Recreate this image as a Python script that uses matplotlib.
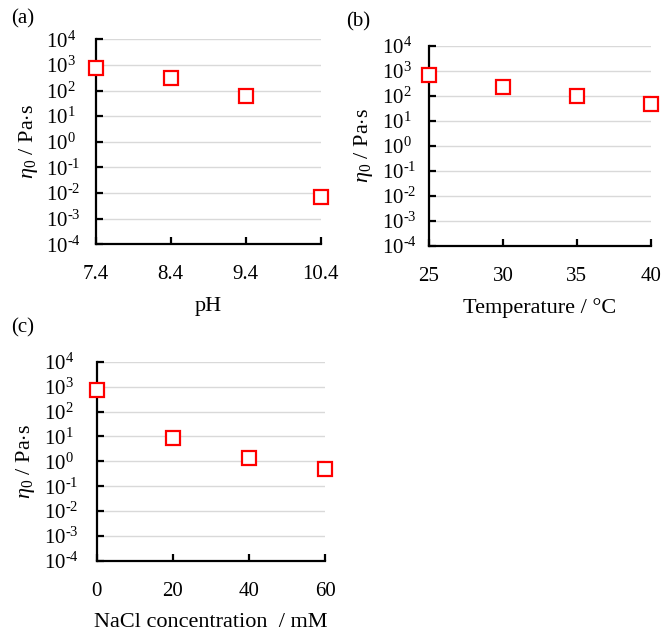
import matplotlib
matplotlib.use("Agg")
import matplotlib.pyplot as plt
from matplotlib.ticker import FixedLocator, FixedFormatter, NullLocator

plt.rcParams['font.family'] = ['Liberation Serif', 'DejaVu Serif']
plt.rcParams['mathtext.fontset'] = 'custom'
plt.rcParams['mathtext.rm'] = 'Liberation Serif'
plt.rcParams['mathtext.it'] = 'Liberation Serif:italic'

# Data
ph = [7.4, 8.4, 9.4, 10.4]
eta_ph = [740, 300, 60, 0.0068]
ph_ticks = ['7.4', '8.4', '9.4', '10.4']

temp = [25, 30, 35, 40]
eta_temp = [670, 230, 100, 48]
temp_ticks = ['25', '30', '35', '40']

nacl = [0, 20, 40, 60]
eta_nacl = [710, 9, 1.35, 0.49]
nacl_ticks = ['0', '20', '40', '60']

ylog_ticks = [1e-4, 1e-3, 1e-2, 1e-1, 1e0, 1e1, 1e2, 1e3, 1e4]
ylog_labels = [r'$10^{\text{-}4}$', r'$10^{\text{-}3}$', r'$10^{\text{-}2}$', r'$10^{\text{-}1}$',
               r'$10^{0}$', r'$10^{1}$', r'$10^{2}$', r'$10^{3}$', r'$10^{4}$']

W, H = 661, 631
fig = plt.figure(figsize=(W / 100, H / 100), dpi=100)

TICK_FS = 15
LABEL_FS = 16

# rect, x, y, xticks, xticklabels, xlabel, tag, tag position (px), ytick pad (px), ylabel right edge offset (px)
panels = [
    ([0.1448, 0.6128, 0.3404, 0.3249], ph, eta_ph, ph, ph_ticks, 'pH', '(a)', (23, 19), 50, 56),
    ([0.6490, 0.6106, 0.3354, 0.3170], temp, eta_temp, temp, temp_ticks, 'Temperature / °C', '(b)', (358, 22), 47, 54),
    ([0.1463, 0.1109, 0.3454, 0.3159], nacl, eta_nacl, nacl, nacl_ticks, 'NaCl concentration  / mM', '(c)', (23, 328), 53, 60),
]

for rect, x, y, xt, xtl, xlabel, tag, tagpos, ypad, ylab_off in panels:
    ax = fig.add_axes(rect)
    ax.set_yscale('log')
    ax.set_ylim(1e-4, 1e4)
    ax.set_xlim(xt[0], xt[-1])
    ax.yaxis.set_major_locator(FixedLocator(ylog_ticks))
    ax.yaxis.set_major_formatter(FixedFormatter(ylog_labels))
    ax.yaxis.set_minor_locator(NullLocator())
    ax.set_xticks(xt)
    ax.set_xticklabels(xtl)
    ax.grid(axis='y', color='#d9d9d9', linewidth=1.0)
    ax.set_axisbelow(True)
    for s in ['top', 'right']:
        ax.spines[s].set_visible(False)
    for s in ['left', 'bottom']:
        ax.spines[s].set_linewidth(1.6)
        ax.spines[s].set_color('black')
    ax.tick_params(axis='both', direction='in', length=5, width=1.6,
                   labelsize=TICK_FS)
    ax.tick_params(axis='y', pad=ypad * 0.72)
    for lab in ax.get_yticklabels():
        lab.set_horizontalalignment('left')
    ax.tick_params(axis='x', pad=15)
    ax.plot(x, y, linestyle='none', marker='s', markersize=9.5,
            markerfacecolor='white', markeredgecolor='#ff0000',
            markeredgewidth=1.6, clip_on=False, zorder=5)
    ax.set_xlabel(xlabel, fontsize=LABEL_FS, labelpad=9)
    ax.set_ylabel(r'$\eta_0$ / Pa$\cdot$s', fontsize=LABEL_FS)
    ax_w_px = rect[2] * W
    ax.yaxis.set_label_coords(-ylab_off / ax_w_px, 0.5)
    fig.text(tagpos[0] / W, 1 - tagpos[1] / H, tag, fontsize=15,
             ha='center', va='center')

fig.savefig('out.png', dpi=100)
